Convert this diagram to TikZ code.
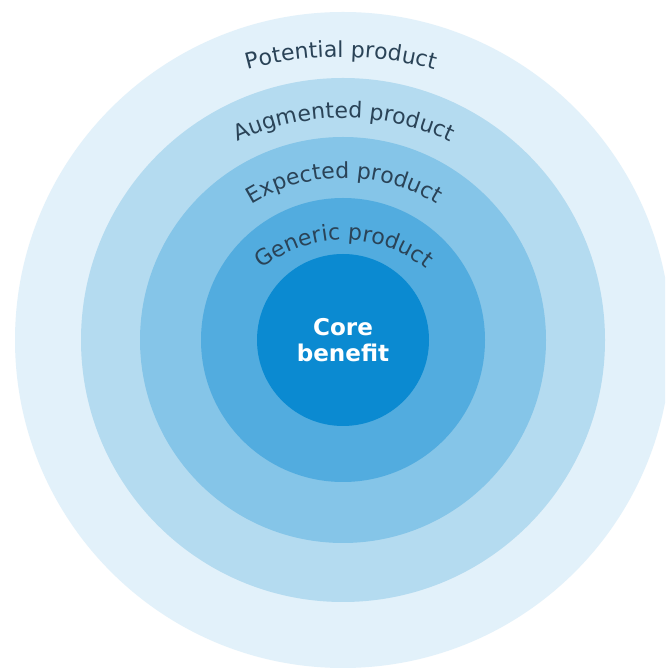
\documentclass[tikz,border=0pt]{standalone}
\usepackage{fontspec}
\setmainfont{DejaVu Sans}
\usetikzlibrary{calc,decorations.text}
\definecolor{potentialblue}{HTML}{E2F1FA}
\definecolor{augmentedblue}{HTML}{B4DBF0}
\definecolor{expectedblue}{HTML}{85C5E8}
\definecolor{genericblue}{HTML}{52ACDF}
\definecolor{coreblue}{HTML}{0B8AD1}
\definecolor{labelgrey}{HTML}{2A4357}
\def\labelfont{\fontsize{16.5}{20}\selectfont}
\def\arclabel(#1)(#2:#3:#4)#5{\path[decorate,decoration={text along path,text align=center,text={|\color{labelgrey}\labelfont|#5}}] ($(#1)+({#4*cos(#2)},{#4*sin(#2)})$) arc (#2:#3:#4);}

\begin{document}
\begin{tikzpicture}[x=0.75pt,y=0.75pt]
			%%%%% START %%%%%
			
			\clip (0, 0) rectangle (665, 671);
			\fill[white] (0, 0) rectangle (665, 671);
			\coordinate (ctr) at (343, 331);
			
			\fill[potentialblue] (ctr) circle (328);
			\fill[augmentedblue] (ctr) circle (262);
			\fill[expectedblue] (ctr) circle (203);
			\fill[genericblue] (ctr) circle (142);
			\node[circle, fill=coreblue, minimum size=129pt, inner sep=0pt, text=white, align=center, font=\bfseries\fontsize{17.3}{19.5}\selectfont] (core) at (ctr) {Core\\benefit};
			
			\arclabel(341, 264)(125:55:350){Potential product}
			\arclabel(344, 303)(135:45:250){Augmented product}
			\arclabel(344, 318)(145:35:175){Expected product}
			\arclabel(344, 301)(155:25:130){Generic product}
			
			%%%%% END %%%%%
\end{tikzpicture}
\end{document}
